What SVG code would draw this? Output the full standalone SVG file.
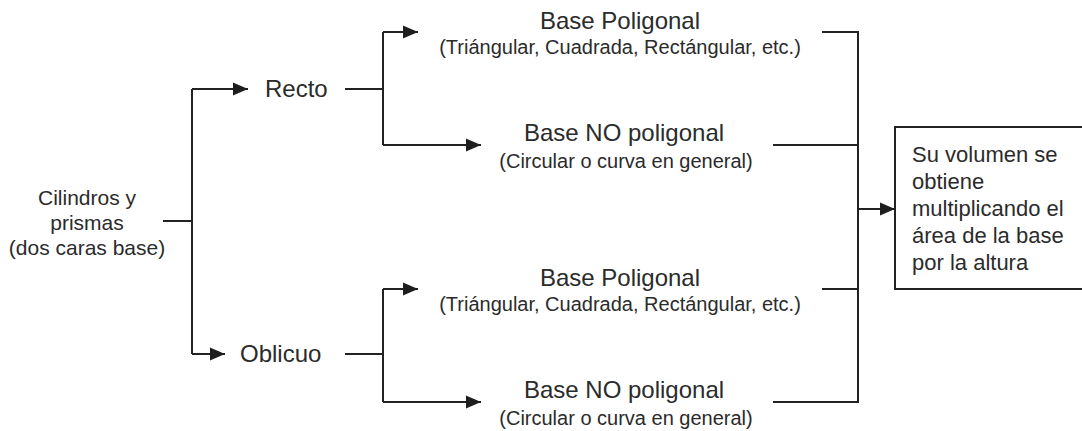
<svg xmlns="http://www.w3.org/2000/svg" width="1082" height="431" viewBox="0 0 1082 431">
<style>
  .t { font-family: "Liberation Sans", Arial, sans-serif; fill: #2b2b2b; }
  .big { font-size: 24px; }
  .sub { font-size: 20px; }
  .mid { text-anchor: middle; }
  .ln { fill: none; stroke: #222222; stroke-width: 2; }
</style>
<defs>
  <marker id="ah" markerUnits="userSpaceOnUse" markerWidth="16" markerHeight="14" refX="15" refY="7" orient="auto">
    <path d="M0,0.5 L15,7 L0,13.5 Z" fill="#1e1e1e"/>
  </marker>
</defs>
<rect width="1082" height="431" fill="#ffffff"/>
<g id="connectors" class="ln">
  <path d="M163,221 H192"/>
  <path d="M192,89 V354"/>
  <path d="M192,89 H248" marker-end="url(#ah)"/>
  <path d="M192,354 H225" marker-end="url(#ah)"/>
  <path d="M345,89 H383"/>
  <path d="M383,32 V145"/>
  <path d="M383,32 H418" marker-end="url(#ah)"/>
  <path d="M383,145 H481" marker-end="url(#ah)"/>
  <path d="M345,354 H383"/>
  <path d="M383,289 V402"/>
  <path d="M383,289 H418" marker-end="url(#ah)"/>
  <path d="M383,402 H481" marker-end="url(#ah)"/>
  <path d="M822,32 H858 V402 H773"/>
  <path d="M773,145 H858"/>
  <path d="M822,289 H858"/>
  <path d="M858,209 H895" marker-end="url(#ah)"/>
</g>
<g id="root">
  <text class="t mid" font-size="21" x="87" y="205">Cilindros y</text>
  <text class="t mid" font-size="21" x="87" y="230">prismas</text>
  <text class="t mid" font-size="21" x="87" y="255">(dos caras base)</text>
</g>
<g id="recto"><text class="t big" x="265" y="97">Recto</text></g>
<g id="oblicuo"><text class="t big" x="240" y="362">Oblicuo</text></g>
<g id="recto-poligonal">
  <text class="t big mid" x="620" y="29">Base Poligonal</text>
  <text class="t sub mid" x="620" y="54">(Triángular, Cuadrada, Rectángular, etc.)</text>
</g>
<g id="recto-no-poligonal">
  <text class="t big mid" x="624" y="141">Base NO poligonal</text>
  <text class="t sub mid" x="626" y="168">(Circular o curva en general)</text>
</g>
<g id="oblicuo-poligonal">
  <text class="t big mid" x="620" y="286">Base Poligonal</text>
  <text class="t sub mid" x="620" y="311">(Triángular, Cuadrada, Rectángular, etc.)</text>
</g>
<g id="oblicuo-no-poligonal">
  <text class="t big mid" x="624" y="398">Base NO poligonal</text>
  <text class="t sub mid" x="626" y="425">(Circular o curva en general)</text>
</g>
<g id="resultado">
  <rect x="895" y="127" width="200" height="162" class="ln"/>
  <text class="t" font-size="22" x="912" y="162">Su volumen se</text>
  <text class="t" font-size="22" x="912" y="189">obtiene</text>
  <text class="t" font-size="22" x="912" y="216">multiplicando el</text>
  <text class="t" font-size="22" x="912" y="243">área de la base</text>
  <text class="t" font-size="22" x="912" y="270">por la altura</text>
</g>
</svg>
